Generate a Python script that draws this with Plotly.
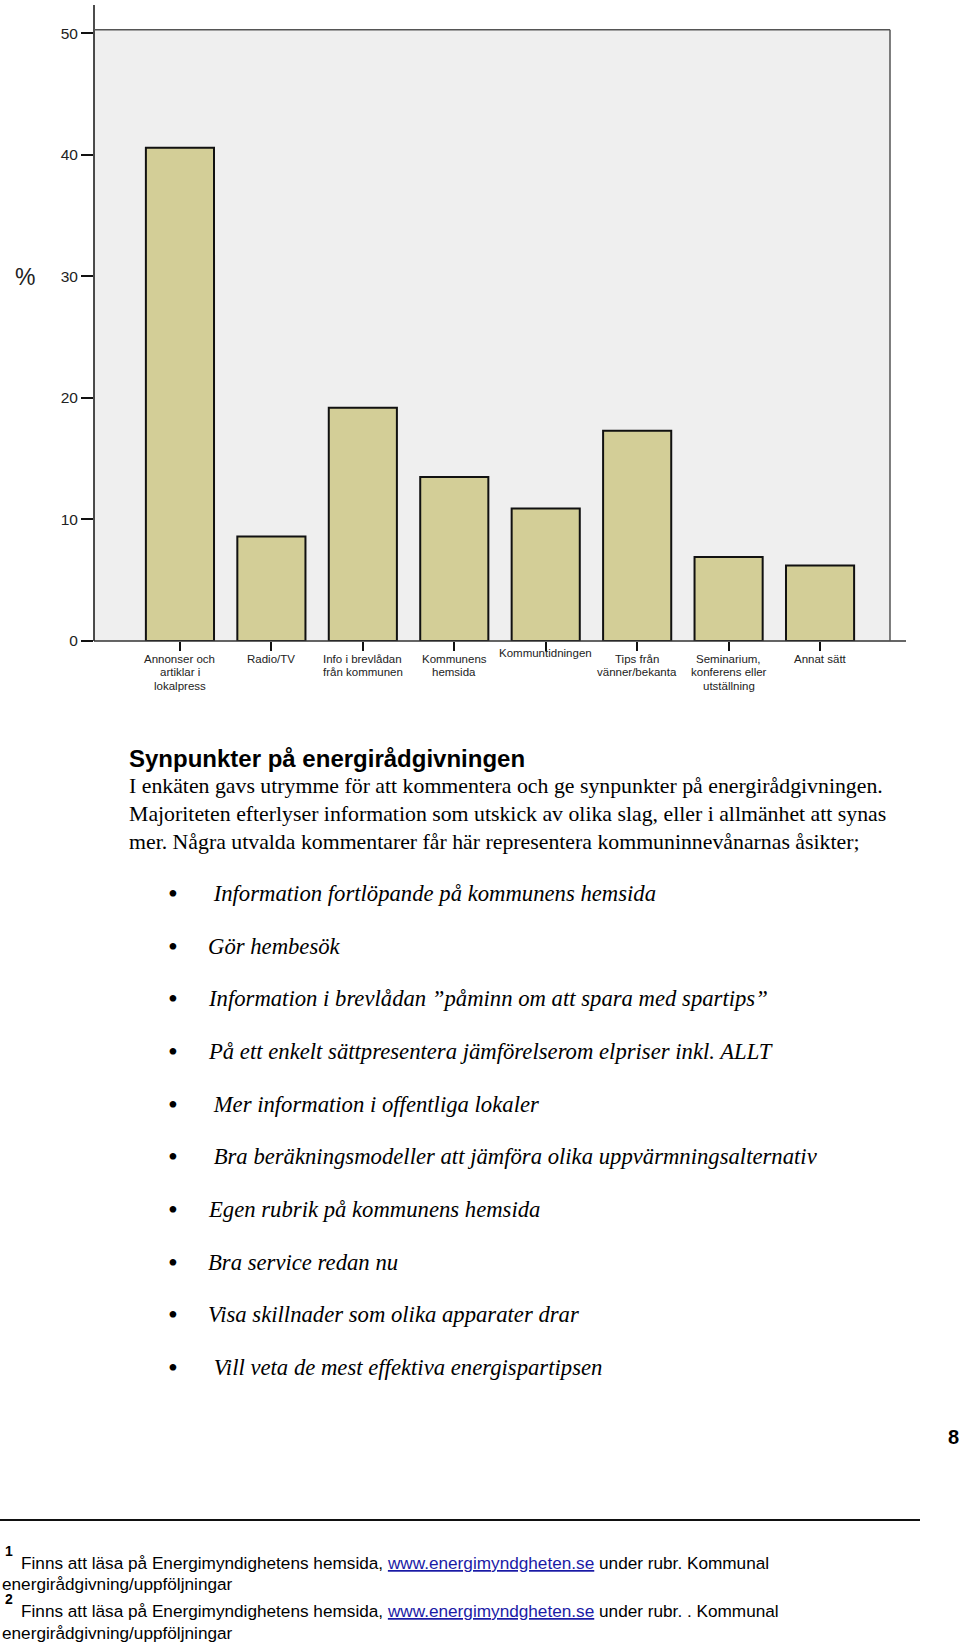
import plotly.graph_objects as go

# ---- data ----
categories = ["Annonser och artiklar i lokalpress", "Radio/TV", "Info i brevlådan från kommunen",
              "Kommunens hemsida", "Kommuntidningen", "Tips från vänner/bekanta",
              "Seminarium, konferens eller utställning", "Annat sätt"]
category_lines = [["Annonser och", "artiklar i", "lokalpress"], ["Radio/TV"],
                  ["Info i brevlådan", "från kommunen"], ["Kommunens", "hemsida"],
                  ["Kommuntidningen"], ["Tips från", "vänner/bekanta"],
                  ["Seminarium,", "konferens eller", "utställning"], ["Annat sätt"]]
values = [40.6, 8.6, 19.2, 13.5, 10.9, 17.3, 6.9, 6.2]
y_ticks = [0, 10, 20, 30, 40, 50]
y_label = "%"

heading = "Synpunkter på energirådgivningen"
body_lines = [
    "I enkäten gavs utrymme för att kommentera och ge synpunkter på energirådgivningen.",
    "Majoriteten efterlyser information som utskick av olika slag, eller i allmänhet att synas",
    "mer. Några utvalda kommentarer får här representera kommuninnevånarnas åsikter;",
]
bullets = [
    " Information fortlöpande på kommunens hemsida",
    "Gör hembesök",
    "Information i brevlådan ”påminn om att spara med spartips”",
    "På ett enkelt sättpresentera jämförelserom elpriser inkl. ALLT",
    " Mer information i offentliga lokaler",
    " Bra beräkningsmodeller att jämföra olika uppvärmningsalternativ",
    "Egen rubrik på kommunens hemsida",
    "Bra service redan nu",
    "Visa skillnader som olika apparater drar",
    " Vill veta de mest effektiva energispartipsen",
]
page_number = "8"
link = "www.energimyndgheten.se"
footnotes = [
    ("1", "Finns att läsa på Energimyndighetens hemsida, ", " under rubr. Kommunal"),
    ("2", "Finns att läsa på Energimyndighetens hemsida, ", " under rubr. . Kommunal"),
]
footnote_cont = "energirådgivning/uppföljningar"

# ---- layout helpers ----
W, H = 960, 1645
def px(x): return x / W
def py(y): return 1 - y / H

SANS = "Liberation Sans, Arial, sans-serif"
SERIF = "Liberation Serif, Times New Roman, serif"

Y_TOP_PX, Y_ZERO_PX, Y_TOP_VAL = 25, 641, 50.3

fig = go.Figure()
fig.add_bar(x=categories, y=values, width=0.745,
            marker=dict(color="#D3CE97", line=dict(color="#111111", width=2)),
            hoverinfo="skip")

fig.update_layout(
    width=W, height=H, margin=dict(l=0, r=0, t=0, b=0),
    paper_bgcolor="white", plot_bgcolor="#EFEFEF", showlegend=False,
    xaxis=dict(type="category", domain=[px(94), px(890)], range=[-0.94, 7.765],
               showline=False, showgrid=False, zeroline=False, showticklabels=False,
               ticks="outside", ticklen=9, tickwidth=2, tickcolor="#111"),
    yaxis=dict(domain=[py(Y_ZERO_PX), py(Y_TOP_PX)], range=[0, Y_TOP_VAL], tickvals=y_ticks,
               showline=False, showgrid=False, zeroline=False,
               ticks="outside", ticklen=12, tickwidth=2, tickcolor="#111",
               tickfont=dict(family=SANS, size=15.5, color="#222")),
)

shapes = [
    dict(type="line", xref="paper", yref="paper", x0=px(94), x1=px(94), y0=py(Y_ZERO_PX), y1=1,
         line=dict(color="#111", width=1.5)),
    dict(type="line", xref="paper", yref="paper", x0=px(94), x1=px(906), y0=py(Y_ZERO_PX), y1=py(Y_ZERO_PX),
         line=dict(color="#333", width=1.5)),
    dict(type="line", xref="paper", yref="paper", x0=px(94), x1=px(890), y0=py(Y_TOP_PX), y1=py(Y_TOP_PX),
         line=dict(color="#555", width=1.5)),
    dict(type="line", xref="paper", yref="paper", x0=px(890), x1=px(890), y0=py(Y_TOP_PX), y1=py(Y_ZERO_PX),
         line=dict(color="#555", width=1.5)),
    dict(type="line", xref="paper", yref="paper", x0=0, x1=px(920), y0=py(1527), y1=py(1527),
         line=dict(color="#111", width=2)),
]
fig.update_layout(shapes=shapes)

ann = []
def text(x, y, t, size, family=SANS, xanchor="left", color="#000"):
    ann.append(dict(x=px(x), y=py(y), xref="paper", yref="paper", text=t, showarrow=False,
                    xanchor=xanchor, yanchor="middle", font=dict(family=family, size=size, color=color)))

# category labels
for cat, lines in zip(categories, category_lines):
    y0 = 653 if len(lines) == 1 and len(lines[0]) > 12 else 659
    for j, ln in enumerate(lines):
        ann.append(dict(x=cat, xref="x", y=py(y0 + j * 13.5), yref="paper", text=ln,
                        showarrow=False, xanchor="center", yanchor="middle",
                        font=dict(family=SANS, size=11.5, color="#222")))

text(25, 274, y_label, 23, xanchor="center", color="#222")

text(127, 760, "<b>" + heading + "</b>", 24)
for i, ln in enumerate(body_lines):
    text(127, 787.5 + i * 28, ln, 21.8, family=SERIF)

for i, b in enumerate(bullets):
    yy = 895.5 + i * 53.1
    text(173, yy, "•", 28, family=SERIF, xanchor="center")
    text(206, yy, "<i>" + b + "</i>", 22.7, family=SERIF)

text(953, 1443, "<b>" + page_number + "</b>", 20, xanchor="center")

for k, (num, pre, post) in enumerate(footnotes):
    base = 1558 + k * 49
    text(3, base, "<b>" + num + "</b>", 14)
    text(19, base + 12, pre + "<span style='color:#1a1aa6'><u>" + link + "</u></span>" + post, 17.2)
    text(0, base + 34, footnote_cont, 17.2)

fig.update_layout(annotations=ann)
fig.write_html("out.html", config={"displayModeBar": False},
               post_script="document.body.style.margin='0';document.body.style.overflow='hidden';")
